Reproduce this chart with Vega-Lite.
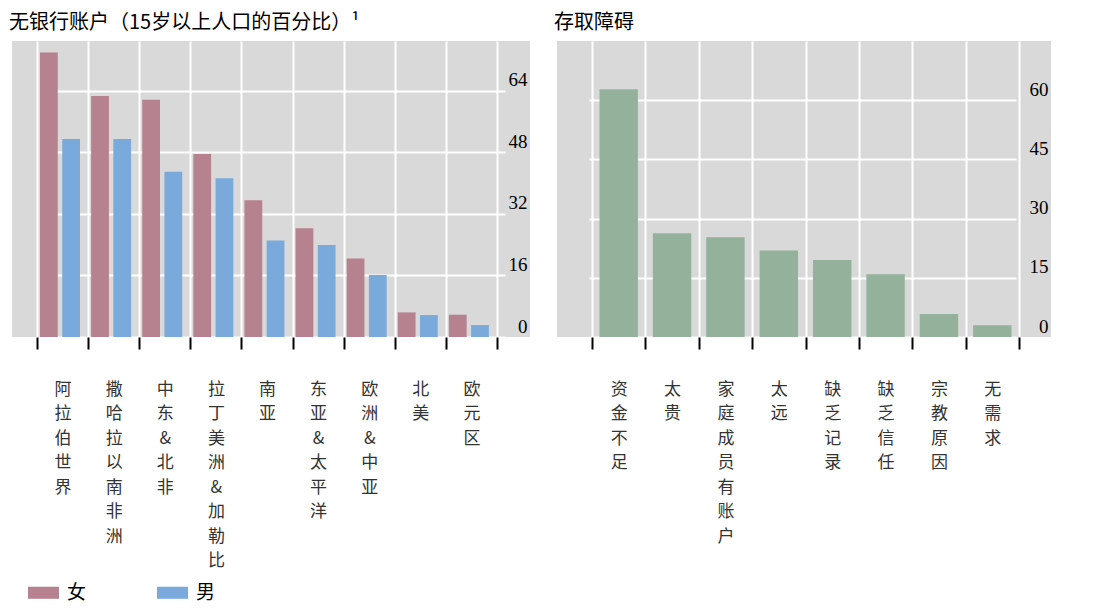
{
  "$schema": "https://vega.github.io/schema/vega-lite/v6.json",
  "padding": {"left": 9, "top": 13, "right": 5, "bottom": 5},
  "background": "white",
  "spacing": 24,
  "datasets": {
    "unbanked": [
      {"region": "阿拉伯世界", "gender": "女", "value": 74.0},
      {"region": "阿拉伯世界", "gender": "男", "value": 51.5},
      {"region": "撒哈拉以南非洲", "gender": "女", "value": 62.7},
      {"region": "撒哈拉以南非洲", "gender": "男", "value": 51.5},
      {"region": "中东&北非", "gender": "女", "value": 61.7},
      {"region": "中东&北非", "gender": "男", "value": 43.0},
      {"region": "拉丁美洲&加勒比", "gender": "女", "value": 47.6},
      {"region": "拉丁美洲&加勒比", "gender": "男", "value": 41.3},
      {"region": "南亚", "gender": "女", "value": 35.6},
      {"region": "南亚", "gender": "男", "value": 25.1},
      {"region": "东亚&太平洋", "gender": "女", "value": 28.3},
      {"region": "东亚&太平洋", "gender": "男", "value": 23.9},
      {"region": "欧洲&中亚", "gender": "女", "value": 20.4},
      {"region": "欧洲&中亚", "gender": "男", "value": 16.1},
      {"region": "北美", "gender": "女", "value": 6.4},
      {"region": "北美", "gender": "男", "value": 5.7},
      {"region": "欧元区", "gender": "女", "value": 5.8},
      {"region": "欧元区", "gender": "男", "value": 3.1}
    ],
    "barriers": [
      {"reason": "资金不足", "value": 62.8},
      {"reason": "太贵", "value": 26.3},
      {"reason": "家庭成员有账户", "value": 25.3},
      {"reason": "太远", "value": 21.9},
      {"reason": "缺乏记录", "value": 19.5},
      {"reason": "缺乏信任", "value": 15.9},
      {"reason": "宗教原因", "value": 5.8},
      {"reason": "无需求", "value": 3.0}
    ]
  },
  "hconcat": [
    {
      "title": "无银行账户（15岁以上人口的百分比）¹",
      "width": 518,
      "height": 296,
      "data": {"name": "unbanked"},
      "mark": "bar",
      "encoding": {
        "x": {
          "field": "region",
          "type": "nominal",
          "sort": null,
          "title": null,
          "scale": {"range": [25, 485], "paddingInner": 0, "paddingOuter": 0}
        },
        "xOffset": {
          "field": "gender",
          "type": "nominal",
          "sort": ["女", "男"],
          "scale": {"range": [3, 43], "paddingInner": 0.2, "paddingOuter": 0}
        },
        "y": {
          "field": "value",
          "type": "quantitative",
          "title": null,
          "scale": {"domain": [0, 77], "nice": false},
          "axis": {"orient": "right", "values": [0, 16, 32, 48, 64]}
        },
        "color": {
          "field": "gender",
          "type": "nominal",
          "scale": {"domain": ["女", "男"], "range": ["#b7828f", "#7aaadb"]},
          "legend": {
            "title": null,
            "orient": "none",
            "legendX": 16,
            "legendY": 536,
            "direction": "horizontal",
            "padding": 0,
            "symbolType": "M-1,-0.39H1V0.39H-1Z",
            "symbolSize": 961,
            "symbolStrokeWidth": 0,
            "symbolOpacity": 1,
            "labelFont": "Noto Sans CJK SC",
            "labelFontSize": 19,
            "labelColor": "#000",
            "labelOffset": 8,
            "columnPadding": 70
          }
        }
      }
    },
    {
      "title": "存取障碍",
      "width": 494,
      "height": 296,
      "data": {"name": "barriers"},
      "mark": {"type": "bar", "width": {"band": 0.72}, "color": "#93b19b"},
      "encoding": {
        "x": {
          "field": "reason",
          "type": "nominal",
          "sort": null,
          "title": null,
          "scale": {"range": [35, 462], "paddingInner": 0, "paddingOuter": 0}
        },
        "y": {
          "field": "value",
          "type": "quantitative",
          "title": null,
          "scale": {"domain": [0, 75], "nice": false},
          "axis": {"orient": "right", "values": [0, 15, 30, 45, 60]}
        }
      }
    }
  ],
  "config": {
    "view": {"fill": "#d9d9d9", "stroke": null},
    "title": {
      "font": "Noto Sans CJK SC",
      "fontSize": 20,
      "fontWeight": "normal",
      "anchor": "start",
      "color": "#000",
      "offset": 8,
      "dx": -3
    },
    "axisX": {
      "tickBand": "extent",
      "domain": false,
      "grid": true,
      "gridColor": "white",
      "gridWidth": 2,
      "gridOpacity": 1,
      "ticks": true,
      "tickColor": "#000",
      "tickWidth": 2,
      "tickSize": 12,
      "labelAngle": 0,
      "labelAlign": "center",
      "labelBaseline": "top",
      "labelExpr": "split(datum.label, '')",
      "labelFont": "Noto Sans CJK SC",
      "labelFontSize": 17,
      "labelLineHeight": 24.5,
      "labelColor": "#333",
      "labelPadding": 32,
      "labelLimit": 0,
      "labelOverlap": false
    },
    "axisY": {
      "domain": false,
      "ticks": false,
      "tickSize": 0,
      "grid": true,
      "gridColor": "white",
      "gridWidth": 2,
      "gridOpacity": 1,
      "labelAlign": "right",
      "labelBaseline": "bottom",
      "labelPadding": -3,
      "labelOffset": -1,
      "labelFont": "Liberation Serif, DejaVu Serif, serif",
      "labelFontSize": 19,
      "labelColor": "#000",
      "labelOverlap": false,
      "labelFlush": false
    }
  }
}
